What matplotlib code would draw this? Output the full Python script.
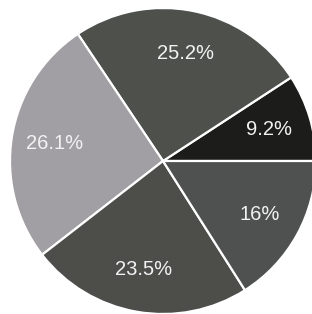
import matplotlib.pyplot as plt

shares = [9.2, 25.2, 26.1, 23.5, 16.0]
colors = ["#1c1d1b", "#4e504c", "#a19fa3", "#4d4e4a", "#4f5050"]


def fmt(p):
    return f"{p:.1f}".rstrip("0").rstrip(".") + "%"


fig = plt.figure(figsize=(3.12, 3.14), dpi=100)
ax = fig.add_axes([0, 0, 1, 1])
ax.pie(shares, colors=colors, startangle=0, counterclock=True,
       autopct=fmt, pctdistance=0.72,
       wedgeprops=dict(edgecolor="white", linewidth=1.6),
       textprops=dict(color="#f2f2f2", fontsize=14.5, family="Liberation Sans"))
ax.set_xlim(-163 / 153, (312 - 163) / 153)
ax.set_ylim(-(314 - 161) / 153, 161 / 153)
ax.set_aspect("auto")
ax.axis("off")
fig.savefig("out.png", dpi=100)
